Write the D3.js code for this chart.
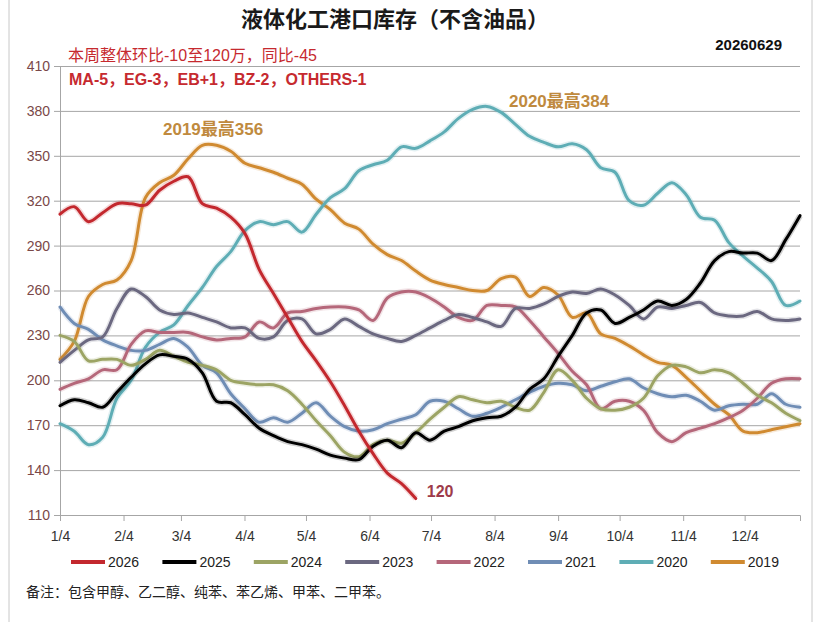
<!DOCTYPE html>
<html>
<head>
<meta charset="utf-8">
<script src="https://cdn.jsdelivr.net/npm/d3@7"></script>
<style>
  body { margin: 0; background: #fff; }
  svg { display: block; font-family: "Liberation Sans", "Noto Sans CJK SC", sans-serif; }
</style>
</head>
<body>
<script>
// weekly port stocks, 53 points from 1/4 to 12/31 (2026 stops at end of june)
const years = ["2026", "2025", "2024", "2023", "2022", "2021", "2020", "2019"];
const colors = ["#c3282e", "#000000", "#9ca464", "#6b6880", "#b5677a", "#6f8db5", "#5eadb5", "#d08a30"];

const v2026 = [311,316,306,312,318,318,317,327,333,336,318,315,309,298,274,258,242,226,213,199,183,166,151,138,131,121];
const v2025 = [183,187,185,182,192,202,211,217,216,214,205,186,185,177,168,163,159,157,154,150,148,147,156,160,155,165,160,166,169,173,175,176,182,194,201,216,230,245,247,238,242,247,253,250,254,265,280,286,285,285,280,294,310];
const v2024 = [230,226,213,214,214,210,214,220,216,212,210,207,200,198,197,197,193,184,173,163,152,149,157,160,158,165,174,182,189,187,185,186,182,180,192,207,200,188,181,180,182,188,203,210,209,205,207,205,198,190,185,178,173];
const v2023 = [212,220,227,229,248,261,256,247,244,245,242,239,235,235,228,229,240,241,231,234,241,236,231,228,226,230,235,240,244,242,239,236,248,248,251,256,259,258,261,257,250,241,249,248,250,252,245,243,243,246,241,240,241];
const v2022 = [194,198,201,207,207,224,233,232,232,232,229,227,228,229,239,235,245,246,248,249,249,247,240,255,259,259,255,249,242,240,250,250,249,240,229,218,206,197,181,186,186,180,165,159,165,168,171,175,180,188,198,201,201];
const v2021 = [249,238,234,227,223,220,220,224,228,222,210,205,191,181,172,175,172,178,185,176,169,166,167,171,174,177,186,186,181,176,178,182,187,192,196,198,197,193,196,199,201,195,191,189,190,186,180,183,184,184,191,184,182];
const v2020 = [171,166,157,162,188,200,222,232,237,250,262,276,286,300,306,304,306,299,311,322,328,340,344,347,356,355,360,366,375,381,383,379,371,363,359,356,358,354,342,339,320,317,325,332,324,309,307,292,283,275,266,250,253];
const v2019 = [214,226,256,264,267,280,322,332,337,348,357,357,353,345,342,339,335,331,321,314,305,301,291,284,280,273,267,264,262,260,260,268,269,256,262,257,242,245,231,228,223,217,212,210,202,193,184,177,166,165,167,169,171];
const seriesValues = [v2026, v2025, v2024, v2023, v2022, v2021, v2020, v2019];

const yTicks = [110, 140, 170, 200, 230, 260, 290, 320, 350, 380, 410];
const monthTicks = d3.range(0, 12).map(m => new Date(2021, m, 4));

const title = "液体化工港口库存（不含油品）";
const dateText = "20260629";
const note1 = "本周整体环比-10至120万，同比-45";
const note2 = "MA-5，EG-3，EB+1，BZ-2，OTHERS-1";
const peak2019 = "2019最高356";
const peak2020 = "2020最高384";
const endLabel = "120";
const footNote = "备注：包含甲醇、乙二醇、纯苯、苯乙烯、甲苯、二甲苯。";

const width = 823, height = 622;
const start = new Date(2021, 0, 4), end = new Date(2021, 11, 31);
const nPts = 53;
const dateAt = i => new Date(+start + i * (end - start) / (nPts - 1));

const x = d3.scaleTime().domain([start, end]).range([60, 800]);
const y = d3.scaleLinear().domain([110, 410]).range([515, 66]);

const svg = d3.select("body").append("svg")
  .attr("width", width)
  .attr("height", height);

// frame lines at the sides
svg.append("line").attr("x1", 9).attr("x2", 9).attr("y1", 0).attr("y2", height)
  .attr("stroke", "#c8c8c8");
svg.append("line").attr("x1", 812).attr("x2", 812).attr("y1", 0).attr("y2", height)
  .attr("stroke", "#c8c8c8");

// title
svg.append("text")
  .attr("x", 395).attr("y", 27)
  .attr("text-anchor", "middle")
  .style("font-size", "22px").style("font-weight", "bold").style("fill", "#1a1a1a")
  .text(title);

svg.append("text")
  .attr("x", 782).attr("y", 50)
  .attr("text-anchor", "end")
  .style("font-size", "15px").style("font-weight", "bold").style("fill", "#111")
  .text(dateText);

// grid
svg.append("g")
  .attr("transform", "translate(60,0)")
  .call(d3.axisLeft(y).tickValues(yTicks).tickSize(-740).tickFormat(""))
  .call(g => g.select(".domain").remove())
  .call(g => g.selectAll("line").attr("stroke", "#a6a6a6"));

// y axis
svg.append("g")
  .attr("transform", "translate(60,0)")
  .call(d3.axisLeft(y).tickValues(yTicks).tickSize(6).tickPadding(4))
  .call(g => g.select(".domain").attr("stroke", "#a6a6a6"))
  .call(g => g.selectAll("line").attr("stroke", "#a6a6a6"))
  .call(g => g.selectAll("text").style("font-size", "14px").style("fill", "#7a4848")
    .style("font-family", "Liberation Sans, sans-serif"));

// x axis
svg.append("g")
  .attr("transform", "translate(0,515)")
  .call(d3.axisBottom(x).tickValues(monthTicks).tickSize(6).tickPadding(10)
    .tickFormat(d3.timeFormat("%-m/%-d")))
  .call(g => g.select(".domain").attr("stroke", "#a6a6a6"))
  .call(g => g.selectAll("line").attr("stroke", "#a6a6a6"))
  .call(g => g.selectAll("text").style("font-size", "14px").style("fill", "#333")
    .style("font-family", "Liberation Sans, sans-serif"));

const line = d3.line()
  .x((d, i) => x(dateAt(i)))
  .y(d => y(d))
  .curve(d3.curveCatmullRom.alpha(0.5));

// draw oldest first so the recent years sit on top
const order = d3.range(years.length).reverse();
const lines = svg.append("g");
order.forEach(k => {
  lines.append("path")
    .attr("d", line(seriesValues[k]))
    .attr("fill", "none")
    .attr("stroke", colors[k])
    .attr("stroke-opacity", 0.18)
    .attr("stroke-width", 6)
    .attr("stroke-linejoin", "round");
  lines.append("path")
    .attr("d", line(seriesValues[k]))
    .attr("fill", "none")
    .attr("stroke", colors[k])
    .attr("stroke-width", 3)
    .attr("stroke-linejoin", "round")
    .attr("stroke-linecap", "round");
});

// annotations
svg.append("text")
  .attr("x", 68).attr("y", 61)
  .style("font-size", "16px").style("fill", "#c62a2f")
  .text(note1);
svg.append("text")
  .attr("x", 69).attr("y", 85)
  .style("font-size", "16px").style("font-weight", "bold").style("fill", "#c62a2f")
  .text(note2);

svg.append("text")
  .attr("x", 163).attr("y", 135)
  .style("font-size", "17px").style("font-weight", "bold").style("fill", "#c08a3e")
  .text(peak2019);
svg.append("text")
  .attr("x", 509).attr("y", 107)
  .style("font-size", "17px").style("font-weight", "bold").style("fill", "#c08a3e")
  .text(peak2020);

const last2026 = v2026.length - 1;
svg.append("text")
  .attr("x", x(dateAt(last2026)) + 11).attr("y", 497)
  .style("font-size", "16px").style("font-weight", "bold").style("fill", "#9e3b4a")
  .text(endLabel);

// legend
const legend = svg.append("g").attr("transform", "translate(71,562)");
years.forEach((yr, i) => {
  const g = legend.append("g").attr("transform", `translate(${i * 91.4},0)`);
  g.append("line").attr("x1", 0).attr("x2", 34).attr("y1", 0).attr("y2", 0)
    .attr("stroke", colors[i]).attr("stroke-width", 4);
  g.append("text").attr("x", 37).attr("y", 0).attr("dy", "0.36em")
    .style("font-size", "14px").style("fill", "#222")
    .text(yr);
});

svg.append("text")
  .attr("x", 26).attr("y", 597)
  .style("font-size", "14px").style("fill", "#222")
  .text(footNote);
</script>
</body>
</html>
